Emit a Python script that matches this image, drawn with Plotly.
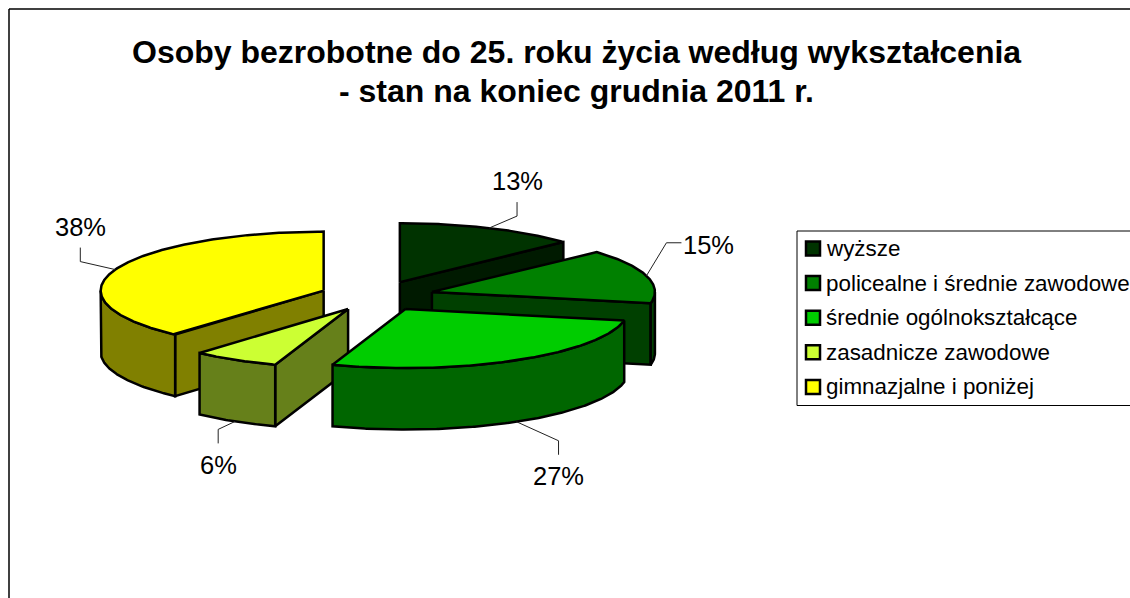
import math
import plotly.graph_objects as go

# ---- data ----
categories = ["wyższe", "policealne i średnie zawodowe", "średnie ogólnokształcące",
              "zasadnicze zawodowe", "gimnazjalne i poniżej"]
shares = [13.1, 15.0, 27.2, 6.3, 38.4]
share_labels = ["13%", "15%", "27%", "6%", "38%"]
top_colors = ["#003300", "#008000", "#00CC00", "#CCFF33", "#FFFF00"]
side_colors = ["#001A00", "#004000", "#006600", "#66801A", "#808000"]

title_lines = ["Osoby bezrobotne do 25. roku życia według wykształcenia",
               "- stan na koniec grudnia 2011 r."]

# ---- layout of the projected pie ----
W, H = 1130, 598
CX, CY = 377.0, 296.0   # pie centre
RX, RY = 223.0, 59.0    # ellipse radii of the tilted disc
DEPTH = 61.5            # extruded height
EXPLODE = 0.256
DRAW_ORDER = [0, 4, 1, 3, 2]  # back to front
# per slice: leader knee, leader end and label centre, relative to rim anchor
LEADER_KNEE = [(28, -12), (20, -33), (42, 19), (-17, 8), (-35, -8)]
LEADER_END = [(28, -26), (35, -33), (42, 33), (-17, 22), (-35, -22)]
LABEL_POS = [(28, -47), (62, -31), (42, 54), (-17, 44), (-35, -43)]
ANCHOR_ON_BOTTOM = [False, False, True, True, False]


def pt(c, deg, z=0.0):
    t = math.radians(deg)
    return c[0] + RX * math.sin(t), c[1] - RY * math.cos(t) + z


def poly(xs_ys, color, fig):
    xs = [p[0] for p in xs_ys] + [xs_ys[0][0]]
    ys = [p[1] for p in xs_ys] + [xs_ys[0][1]]
    fig.add_trace(go.Scatter(x=xs, y=ys, mode="lines", fill="toself", fillcolor=color,
                             line=dict(color="black", width=2.5), hoverinfo="skip",
                             showlegend=False))


def arc(c, a, b, z=0.0):
    n = max(2, int(abs(b - a) * 2))
    return [pt(c, a + (b - a) * i / n, z) for i in range(n + 1)]


total = sum(shares)
spans = []
acc = 0.0
for v in shares:
    a = acc / total * 360
    acc += v
    spans.append((a, acc / total * 360))

fig = go.Figure()

# frame and legend box
frame = dict(type="line", line=dict(color="black", width=1.5), layer="below")
shapes = [
    dict(frame, x0=9, x1=9, y0=9, y1=H),
    dict(frame, x0=9, x1=W, y0=9, y1=9),
    dict(frame, x0=797, x1=W, y0=231, y1=231, line=dict(color="black", width=1)),
    dict(frame, x0=797, x1=W, y0=405.5, y1=405.5, line=dict(color="black", width=1)),
    dict(frame, x0=797, x1=797, y0=231, y1=405.5, line=dict(color="black", width=1)),
]

centres = []
for (a, b) in spans:
    mid = math.radians((a + b) / 2)
    centres.append((CX + EXPLODE * RX * math.sin(mid), CY - EXPLODE * RY * math.cos(mid)))

for i in DRAW_ORDER:
    a, b = spans[i]
    c = centres[i]
    # visible cut faces
    if math.cos(math.radians(b + 90)) < 0:
        p = pt(c, b)
        poly([c, p, (p[0], p[1] + DEPTH), (c[0], c[1] + DEPTH)], side_colors[i], fig)
    if math.cos(math.radians(a - 90)) < -1e-6:
        p = pt(c, a)
        poly([c, p, (p[0], p[1] + DEPTH), (c[0], c[1] + DEPTH)], side_colors[i], fig)
    # visible rim
    ra, rb = max(a, 90), min(b, 270)
    if rb > ra:
        poly(arc(c, ra, rb) + arc(c, rb, ra, DEPTH), side_colors[i], fig)
    # top face
    poly([c] + arc(c, a, b), top_colors[i], fig)

annotations = []
# data labels + leaders
for i, (a, b) in enumerate(spans):
    mid = (a + b) / 2
    ax, ay = pt(centres[i], mid, DEPTH if ANCHOR_ON_BOTTOM[i] else 0.0)
    fig.add_trace(go.Scatter(
        x=[ax, ax + LEADER_KNEE[i][0], ax + LEADER_END[i][0]],
        y=[ay, ay + LEADER_KNEE[i][1], ay + LEADER_END[i][1]],
        mode="lines", line=dict(color="#222222", width=1), hoverinfo="skip", showlegend=False))
    annotations.append(dict(x=ax + LABEL_POS[i][0], y=ay + LABEL_POS[i][1], text=share_labels[i],
                            showarrow=False, font=dict(size=25.5, color="black")))

# legend
LEG_X, LEG_Y0, LEG_DY = 813, 248.5, 34.6
for i, name in enumerate(categories):
    y = LEG_Y0 + i * LEG_DY
    fig.add_trace(go.Scatter(x=[LEG_X], y=[y], mode="markers",
                             marker=dict(symbol="square", size=14, color=top_colors[i],
                                         line=dict(color="black", width=2.5)),
                             hoverinfo="skip", showlegend=False))
    annotations.append(dict(x=824, y=y, text=name, showarrow=False, xanchor="left",
                            font=dict(size=22.4, color="black")))

# title
for line, y in zip(title_lines, (52, 91)):
    annotations.append(dict(x=576.5, y=y, text="<b>%s</b>" % line, showarrow=False,
                            font=dict(size=32, color="black")))

axis = dict(visible=False, fixedrange=True, showgrid=False, zeroline=False)
fig.update_layout(
    width=W, height=H, margin=dict(l=0, r=0, t=0, b=0),
    paper_bgcolor="white", plot_bgcolor="white",
    font=dict(family="Liberation Sans, Arial, sans-serif"),
    xaxis=dict(axis, range=[0, W]),
    yaxis=dict(axis, range=[H, 0]),
    shapes=shapes, annotations=annotations, showlegend=False,
)
fig.write_html("out.html", config={"displayModeBar": False},
               post_script="document.body.style.margin='0';")
